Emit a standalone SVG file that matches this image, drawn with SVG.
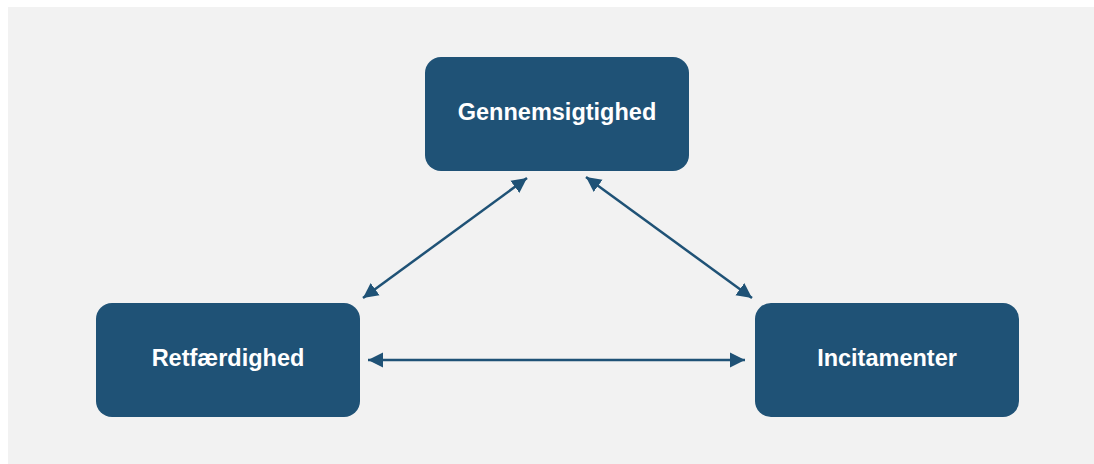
<svg xmlns="http://www.w3.org/2000/svg" width="1094" height="464" viewBox="0 0 1094 464">
  <style>
    .box { fill: #1F5276; }
    .label { font-family: "Liberation Sans", Arial, sans-serif; font-weight: bold; font-size: 23.5px; fill: #FFFFFF; text-anchor: middle; }
    .conn { stroke: #1F5276; stroke-width: 2.5; fill: none; marker-start: url(#ah); marker-end: url(#ah); }
  </style>
  <defs>
    <marker id="ah" markerUnits="userSpaceOnUse" markerWidth="16" markerHeight="16" viewBox="0 0 16 16" refX="15" refY="8" orient="auto-start-reverse">
      <path d="M0,0.5 L15,8 L0,15.5 Z" fill="#1F5276"/>
    </marker>
  </defs>
  <rect x="8" y="7" width="1086" height="457" fill="#F2F2F2"/>
  <g id="connectors">
    <line class="conn" x1="363" y1="298" x2="527" y2="178"/>
    <line class="conn" x1="586" y1="177" x2="752" y2="298"/>
    <line class="conn" x1="368" y1="360" x2="745" y2="360"/>
  </g>
  <g id="node-gennemsigtighed">
    <rect class="box" x="425" y="57" width="264" height="114" rx="16"/>
    <text class="label" x="557" y="120">Gennemsigtighed</text>
  </g>
  <g id="node-retfaerdighed">
    <rect class="box" x="96" y="303" width="264" height="114" rx="16"/>
    <text class="label" x="228" y="366">Retfærdighed</text>
  </g>
  <g id="node-incitamenter">
    <rect class="box" x="755" y="303" width="264" height="114" rx="16"/>
    <text class="label" x="887" y="366">Incitamenter</text>
  </g>
</svg>
